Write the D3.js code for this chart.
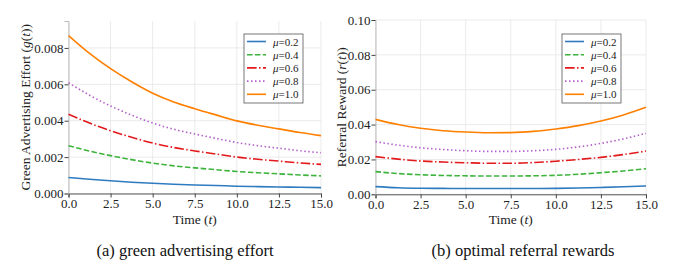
<!DOCTYPE html>
<html>
<head>
<meta charset="utf-8">
<style>
    body { margin: 0; background: #fff; }
    svg { display: block; font-family: "Liberation Serif", "DejaVu Serif", serif; }
    .grid line { stroke: #e6e6e6; stroke-width: 0.8; }
    .tick line { stroke: #444; }
</style>
</head>
<body>
<svg width="684" height="273"></svg>
<script src="https://d3js.org/d3.v7.min.js"></script>
<script>
// time points (t)
var times = [0, 1.25, 2.5, 3.75, 5, 6.25, 7.5, 8.75, 10, 11.25, 12.5, 13.75, 15];
var muLabels = ["0.2", "0.4", "0.6", "0.8", "1.0"];

// (a) green advertising effort g(t)
var effort02 = [0.00088, 0.00078, 0.00070, 0.00062, 0.00056, 0.00051, 0.00047, 0.00044, 0.00040, 0.00038, 0.00036, 0.00034, 0.00032];
var effort04 = [0.00263, 0.00233, 0.00208, 0.00186, 0.00167, 0.00152, 0.00141, 0.00131, 0.00121, 0.00114, 0.00108, 0.00102, 0.00097];
var effort06 = [0.00436, 0.00387, 0.00345, 0.00309, 0.00277, 0.00253, 0.00234, 0.00217, 0.00200, 0.00188, 0.00178, 0.00168, 0.00160];
var effort08 = [0.00609, 0.00540, 0.00481, 0.00431, 0.00387, 0.00353, 0.00327, 0.00303, 0.00280, 0.00263, 0.00249, 0.00235, 0.00224];
var effort10 = [0.00868, 0.00770, 0.00686, 0.00614, 0.00551, 0.00503, 0.00466, 0.00432, 0.00399, 0.00375, 0.00355, 0.00335, 0.00318];

// (b) optimal referral rewards r(t)
var reward02 = [0.0044, 0.0038, 0.0035, 0.0034, 0.0033, 0.0033, 0.0033, 0.0033, 0.0034, 0.0036, 0.0039, 0.0043, 0.0048];
var reward04 = [0.0130, 0.0119, 0.0112, 0.0108, 0.0106, 0.0105, 0.0105, 0.0106, 0.0109, 0.0115, 0.0124, 0.0134, 0.0147];
var reward06 = [0.0216, 0.0202, 0.0191, 0.0185, 0.0181, 0.0178, 0.0178, 0.0182, 0.0190, 0.0200, 0.0212, 0.0228, 0.0248];
var reward08 = [0.0302, 0.0282, 0.0267, 0.0257, 0.0250, 0.0246, 0.0246, 0.0250, 0.0258, 0.0272, 0.0292, 0.0318, 0.0350];
var reward10 = [0.0430, 0.0400, 0.0379, 0.0365, 0.0357, 0.0353, 0.0354, 0.0361, 0.0375, 0.0394, 0.0420, 0.0455, 0.0499];

var xTicks = [0, 2.5, 5, 7.5, 10, 12.5, 15];
var effortTicks = [0, 0.002, 0.004, 0.006, 0.008];
var rewardTicks = [0, 0.02, 0.04, 0.06, 0.08, 0.10];

var colors = ["#2f7bbf", "#3cb43c", "#e31a1c", "#b461cc", "#ff8000"];
var dashes = [null, "5.5,2.4", "9.6,2.4,1.5,2.4", "1.5,2.5", null];
var serif = "Liberation Serif";

var svg = d3.select("svg");

function styleAxis(ax, domainColor) {
    ax.attr("font-family", serif).attr("font-size", 13);
    ax.selectAll("text").attr("font-family", serif).attr("font-size", 13).attr("fill", "#222");
    ax.select(".domain").attr("stroke", domainColor);
}

function drawPanel(p) {
    var x = d3.scaleLinear().domain([0, 15]).range([p.left, p.right]);
    var y = d3.scaleLinear().domain(p.yDomain).range([p.bottom, p.top]);
    var g = svg.append("g");

    // grid
    var grid = g.append("g").attr("class", "grid");
    grid.selectAll(".gx").data(xTicks).enter().append("line")
        .attr("x1", function(d) { return x(d); }).attr("x2", function(d) { return x(d); })
        .attr("y1", p.top).attr("y2", p.bottom);
    grid.selectAll(".gy").data(p.yTicks).enter().append("line")
        .attr("x1", p.left).attr("x2", p.right)
        .attr("y1", function(d) { return y(d); }).attr("y2", function(d) { return y(d); });

    // axes
    var xAxis = g.append("g").attr("transform", "translate(0," + p.bottom + ")")
        .call(d3.axisBottom(x).tickValues(xTicks).tickFormat(d3.format(".1f")).tickSize(4).tickPadding(1));
    styleAxis(xAxis, "#555");
    var yAxis = g.append("g").attr("transform", "translate(" + p.left + ",0)")
        .call(d3.axisLeft(y).tickValues(p.yTicks).tickFormat(d3.format(p.fmt)).tickSize(4).tickPadding(1));
    styleAxis(yAxis, "#bbb");

    // lines
    var line = d3.line()
        .x(function(d, i) { return x(times[i]); })
        .y(function(d) { return y(d); })
        .curve(d3.curveMonotoneX);
    p.series.forEach(function(s, i) {
        g.append("path")
            .attr("d", line(s))
            .attr("fill", "none")
            .attr("stroke", colors[i])
            .attr("stroke-width", 1.6)
            .attr("stroke-dasharray", dashes[i]);
    });

    // legend
    var lg = g.append("g").attr("transform", "translate(" + p.legX + "," + p.legY + ")");
    lg.append("rect").attr("x", 0).attr("y", 0).attr("width", 59).attr("height", 69)
        .attr("fill", "#fff").attr("stroke", "#555").attr("stroke-width", 0.8);
    muLabels.forEach(function(m, i) {
        var yy = 7.5 + i * 13.2;
        lg.append("line").attr("x1", 3).attr("x2", 22).attr("y1", yy).attr("y2", yy)
            .attr("stroke", colors[i]).attr("stroke-width", 1.6)
            .attr("stroke-dasharray", dashes[i]);
        var t = lg.append("text").attr("x", 29).attr("y", yy + 4)
            .attr("font-size", "11px").attr("fill", "#222");
        t.append("tspan").attr("font-style", "italic").text("\u03bc");
        t.append("tspan").text("=" + m);
    });

    // axis labels
    var xl = g.append("text").attr("x", (p.left + p.right) / 2).attr("y", 224)
        .attr("text-anchor", "middle").attr("font-size", "13.5px").attr("fill", "#222");
    xl.append("tspan").text("Time (");
    xl.append("tspan").attr("font-style", "italic").text("t");
    xl.append("tspan").text(")");

    var yl = g.append("text")
        .attr("transform", "translate(" + p.yLabelX + "," + ((p.top + p.bottom) / 2) + ") rotate(-90)")
        .attr("text-anchor", "middle").attr("font-size", "13.5px").attr("fill", "#222");
    yl.append("tspan").text(p.yLabel + " (");
    yl.append("tspan").attr("font-style", "italic").text(p.yVar);
    yl.append("tspan").text("(");
    yl.append("tspan").attr("font-style", "italic").text("t");
    yl.append("tspan").text("))");

    // caption
    g.append("text").attr("x", p.capX).attr("y", 256)
        .attr("text-anchor", "middle").attr("font-size", "16.5px").attr("fill", "#111")
        .text(p.caption);
}

drawPanel({
    left: 68.5, right: 321, top: 21, bottom: 193.5,
    yDomain: [0, 0.00948], yTicks: effortTicks, fmt: ".3f",
    series: [effort02, effort04, effort06, effort08, effort10],
    legX: 244, legY: 34,
    yLabel: "Green Advertising Effort", yVar: "g", yLabelX: 30,
    capX: 185, caption: "(a) green advertising effort"
});

drawPanel({
    left: 375.5, right: 646, top: 20, bottom: 194.3,
    yDomain: [0, 0.10], yTicks: rewardTicks, fmt: ".2f",
    series: [reward02, reward04, reward06, reward08, reward10],
    legX: 562, legY: 34,
    yLabel: "Referral Reward", yVar: "r", yLabelX: 346,
    capX: 523, caption: "(b) optimal referral rewards"
});
</script>
</body>
</html>
